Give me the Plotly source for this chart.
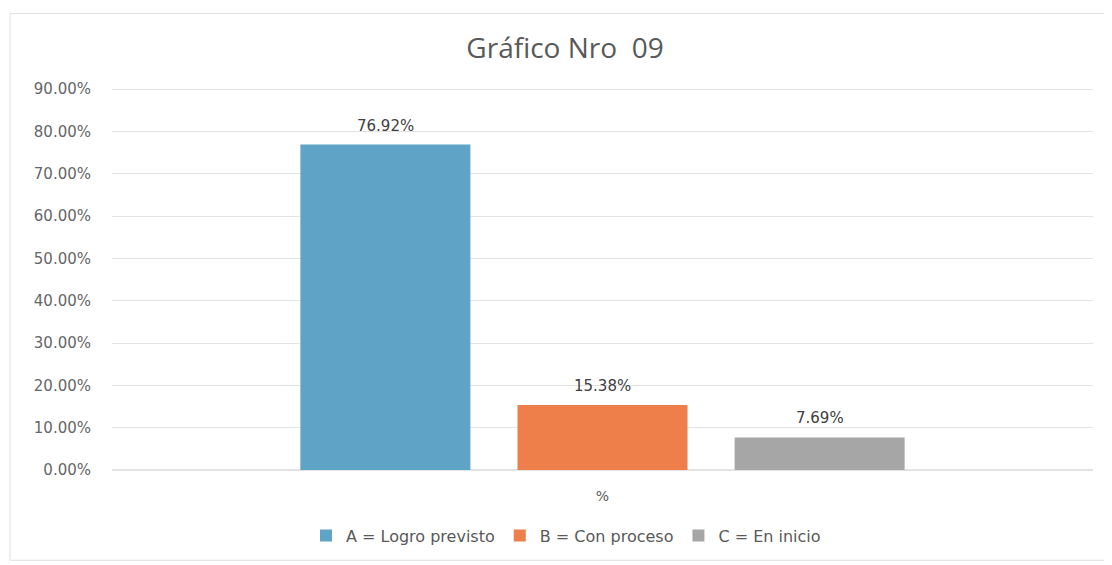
import plotly.graph_objects as go

categories = ["%"]
series_names = ["A = Logro previsto", "B = Con proceso", "C = En inicio"]
series_values = [76.92, 15.38, 7.69]
series_colors = ["#5FA3C6", "#EE7F4B", "#A6A6A6"]
tick_vals = [0, 10, 20, 30, 40, 50, 60, 70, 80, 90]
tick_text = [f"{v:.2f}%" for v in tick_vals]

SMALL = "DejaVu Sans, Open Sans, sans-serif"

W, H = 1104, 557          # page body has an 8px margin
L, R, T, B = 104, 19, 77, 92
pw = W - L - R
ph = H - T - B

bargap, bargroupgap = 0.336, 0.217
slot_px = pw * (1 - bargap) / len(series_values)

fig = go.Figure()
annotations = []
n = len(series_values)
for i, (name, val, col) in enumerate(zip(series_names, series_values, series_colors)):
    fig.add_trace(go.Bar(
        name=name, x=categories, y=[val], marker=dict(color=col, line=dict(width=0)),
    ))
    annotations.append(dict(
        x=categories[0], y=val, xref="x", yref="y", text=f"{val:.2f}%", showarrow=False,
        xanchor="center", yanchor="middle", xshift=(i - (n - 1) / 2) * slot_px, yshift=19,
        font=dict(size=15, color="#404040", family=SMALL),
    ))

fig.update_layout(
    width=W, height=H,
    margin=dict(l=L, r=R, t=T, b=B),
    paper_bgcolor="white", plot_bgcolor="white",
    font=dict(family=SMALL, color="#595959"),
    title=dict(text="Gráfico Nro \u00a009", x=557 / W, xref="container", xanchor="center",
               y=1 - 40 / H, yanchor="middle",
               font=dict(size=28, color="#595959", family="Open Sans, sans-serif")),
    barmode="group", bargap=bargap, bargroupgap=bargroupgap,
    showlegend=True,
    legend=dict(orientation="h", x=(558 - L) / pw, xanchor="center", y=(465 - 531) / ph,
                yanchor="middle", font=dict(size=16, color="#595959", family=SMALL),
                itemwidth=30, traceorder="normal"),
    xaxis=dict(showgrid=False, showline=False, ticks="", tickfont=dict(size=14, color="#595959"),
               ticklabelstandoff=16),
    yaxis=dict(range=[0, 91], tickvals=tick_vals, ticktext=tick_text, showgrid=True,
               gridcolor="#E3E3E3", gridwidth=1, zeroline=True, zerolinecolor="#E3E3E3",
               showline=False, ticks="", tickfont=dict(size=15, color="#666666"),
               ticklabelstandoff=20),
    annotations=annotations,
    shapes=[dict(type="rect", xref="paper", yref="paper",
                 x0=(2 - L) / pw, x1=(1103 - L) / pw,
                 y0=(465 - 556) / ph, y1=(465 - 5) / ph,
                 line=dict(color="#E0E0E0", width=1), fillcolor="rgba(0,0,0,0)", layer="below")],
)

fig.write_html("out.html")
